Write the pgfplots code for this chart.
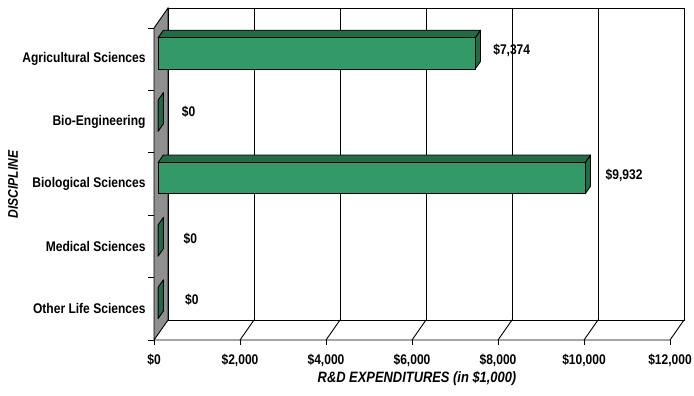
\documentclass[border=0pt]{standalone}
\usepackage{pgfplots}
\pgfplotsset{compat=1.18}
\usepackage{fontspec}
\setmainfont{Liberation Sans}[FakeStretch=0.86]
\definecolor{barfront}{HTML}{339966}
\definecolor{barside}{HTML}{236B46}
\definecolor{wallgray}{HTML}{8F8F8F}
\newcommand{\lblfont}{\bfseries\fontsize{14bp}{16bp}\selectfont}
\pgfplotsset{frame3d/.style={
  at={(154bp,55bp)}, anchor=south west,
  scale only axis, width=516bp, height=312bp,
  xmin=0, xmax=12000, ymin=0, ymax=5,
  clip=false}}
\begin{document}
\begin{tikzpicture}[x=1bp,y=1bp]
\useasboundingbox (0,0) rectangle (694,395);
% ---- frame: walls, floor, grid, ticks, tick labels
\begin{axis}[
  frame3d,
  scaled x ticks=false,
  axis line style={draw=none},
  major tick length=0pt,
  xtick={0,2000,4000,6000,8000,10000,12000},
  xticklabels={{\$0},{\$2,000},{\$4,000},{\$6,000},{\$8,000},{\$10,000},{\$12,000}},
  xticklabel style={font=\lblfont, anchor=center, inner sep=0pt, yshift=-20bp},
  ytick={0.5,1.5,2.5,3.5,4.5},
  yticklabels={Other Life Sciences,Medical Sciences,Biological Sciences,Bio-Engineering,Agricultural Sciences},
  yticklabel style={font=\lblfont, anchor=east, inner sep=0pt, xshift=-8.3bp},
]
\filldraw[fill=wallgray, draw=black, line width=0.9bp] (axis cs:0,0) -- (axis cs:325.6,0.3205) -- (axis cs:325.6,5.3205) -- (axis cs:0,5) -- cycle;
\draw[line width=0.9bp] (axis cs:325.6,0.3205) rectangle (axis cs:12325.6,5.3205);
\draw[line width=0.9bp] (axis cs:0,0) -- (axis cs:12000,0) -- (axis cs:12325.6,0.3205);
\draw[line width=0.9bp] (axis cs:2325.6,0.3205) -- (axis cs:2325.6,5.3205);
\draw[line width=0.9bp] (axis cs:4325.6,0.3205) -- (axis cs:4325.6,5.3205);
\draw[line width=0.9bp] (axis cs:6325.6,0.3205) -- (axis cs:6325.6,5.3205);
\draw[line width=0.9bp] (axis cs:8325.6,0.3205) -- (axis cs:8325.6,5.3205);
\draw[line width=0.9bp] (axis cs:10325.6,0.3205) -- (axis cs:10325.6,5.3205);
\draw[line width=0.9bp] (axis cs:2000,0) -- (axis cs:2325.6,0.3205);
\draw[line width=0.9bp] (axis cs:4000,0) -- (axis cs:4325.6,0.3205);
\draw[line width=0.9bp] (axis cs:6000,0) -- (axis cs:6325.6,0.3205);
\draw[line width=0.9bp] (axis cs:8000,0) -- (axis cs:8325.6,0.3205);
\draw[line width=0.9bp] (axis cs:10000,0) -- (axis cs:10325.6,0.3205);
\draw[line width=0.9bp] (axis cs:0,0) -- ++(0,-5bp);
\draw[line width=0.9bp] (axis cs:2000,0) -- ++(0,-5bp);
\draw[line width=0.9bp] (axis cs:4000,0) -- ++(0,-5bp);
\draw[line width=0.9bp] (axis cs:6000,0) -- ++(0,-5bp);
\draw[line width=0.9bp] (axis cs:8000,0) -- ++(0,-5bp);
\draw[line width=0.9bp] (axis cs:10000,0) -- ++(0,-5bp);
\draw[line width=0.9bp] (axis cs:12000,0) -- ++(0,-5bp);
\draw[line width=0.9bp] (axis cs:0,0) -- ++(-6bp,0);
\draw[line width=0.9bp] (axis cs:0,1) -- ++(-6bp,0);
\draw[line width=0.9bp] (axis cs:0,2) -- ++(-6bp,0);
\draw[line width=0.9bp] (axis cs:0,3) -- ++(-6bp,0);
\draw[line width=0.9bp] (axis cs:0,4) -- ++(-6bp,0);
\draw[line width=0.9bp] (axis cs:0,5) -- ++(-6bp,0);
\end{axis}
% ---- bars
\begin{axis}[
  frame3d, hide axis,
  xbar stacked, bar width=0.5, bar shift=0.093,
]
\addplot[draw=none, fill=none] coordinates {(94.4,0.5) (94.4,1.5) (94.4,2.5) (94.4,3.5) (94.4,4.5)};
\addplot[draw=black, fill=barfront, line width=0.9bp] coordinates {(0,0.5) (0,1.5) (9932,2.5) (0,3.5) (7374,4.5)};
\filldraw[fill=barside, draw=black, line width=0.9bp, line join=round] (axis cs:94.4,4.843) -- (axis cs:218.2,4.9647) -- (axis cs:7592.2,4.9647) -- (axis cs:7468.4,4.843) -- cycle;
\filldraw[fill=barside, draw=black, line width=0.9bp, line join=round] (axis cs:7468.4,4.343) -- (axis cs:7592.2,4.4647) -- (axis cs:7592.2,4.9647) -- (axis cs:7468.4,4.843) -- cycle;
\filldraw[fill=barside, draw=black, line width=0.9bp, line join=round] (axis cs:94.4,2.843) -- (axis cs:218.2,2.9647) -- (axis cs:10150.2,2.9647) -- (axis cs:10026.4,2.843) -- cycle;
\filldraw[fill=barside, draw=black, line width=0.9bp, line join=round] (axis cs:10026.4,2.343) -- (axis cs:10150.2,2.4647) -- (axis cs:10150.2,2.9647) -- (axis cs:10026.4,2.843) -- cycle;
\filldraw[fill=barside, draw=black, line width=0.9bp, line join=round] (axis cs:94.4,3.343) -- (axis cs:218.2,3.4647) -- (axis cs:218.2,3.9647) -- (axis cs:94.4,3.843) -- cycle;
\filldraw[fill=barside, draw=black, line width=0.9bp, line join=round] (axis cs:94.4,1.343) -- (axis cs:218.2,1.4647) -- (axis cs:218.2,1.9647) -- (axis cs:94.4,1.843) -- cycle;
\filldraw[fill=barside, draw=black, line width=0.9bp, line join=round] (axis cs:94.4,0.343) -- (axis cs:218.2,0.4647) -- (axis cs:218.2,0.9647) -- (axis cs:94.4,0.843) -- cycle;
\node[anchor=west, inner sep=0pt, font=\lblfont] at (axis cs:7886,4.647) {\$7,374};
\node[anchor=west, inner sep=0pt, font=\lblfont] at (axis cs:10500,2.644) {\$9,932};
\node[anchor=west, inner sep=0pt, font=\lblfont] at (axis cs:644,3.659) {\$0};
\node[anchor=west, inner sep=0pt, font=\lblfont] at (axis cs:683,1.619) {\$0};
\node[anchor=west, inner sep=0pt, font=\lblfont] at (axis cs:721,0.641) {\$0};
\end{axis}
\node[font=\bfseries\itshape\fontsize{15bp}{17bp}\selectfont] at (417,17) {R\&D EXPENDITURES (in \$1,000)};
\node[font=\bfseries\itshape\fontsize{14bp}{16bp}\selectfont, rotate=90] at (13,210.5) {DISCIPLINE};
\end{tikzpicture}
\end{document}
